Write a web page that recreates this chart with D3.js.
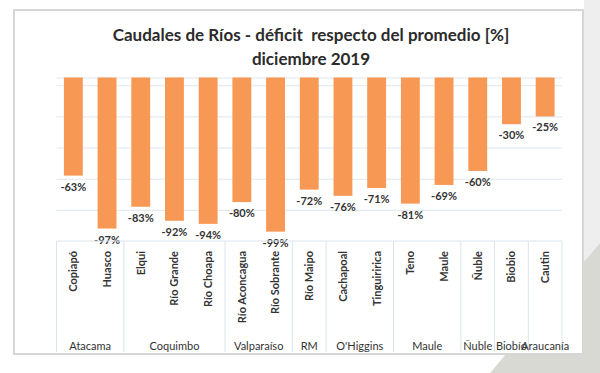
<!DOCTYPE html>
<html>
<head>
<meta charset="utf-8">
<script src="https://cdn.jsdelivr.net/npm/d3@7"></script>
<style>
  body { margin: 0; background: #fff; }
  svg { display: block; font-family: Lato, "Open Sans", sans-serif; }
  .grid line { stroke: #dfe6ee; }
  .grid path { display: none; }
</style>
</head>
<body>
<script>
// rivers, deficit (%) and the region each one belongs to
const rivers = ["Copiapó", "Huasco", "Elqui", "Río Grande", "Río Choapa", "Río Aconcagua", "Río Sobrante",
  "Río Maipo", "Cachapoal", "Tinguiririca", "Teno", "Maule", "Ñuble", "Biobio", "Cautin"];
const deficits = [-63, -97, -83, -92, -94, -80, -99, -72, -76, -71, -81, -69, -60, -30, -25];
const riverRegion = ["Atacama", "Atacama", "Coquimbo", "Coquimbo", "Coquimbo", "Valparaíso", "Valparaíso",
  "RM", "O'Higgins", "O'Higgins", "Maule", "Maule", "Ñuble", "Biobío", "Araucanía"];
const regions = ["Atacama", "Coquimbo", "Valparaíso", "RM", "O'Higgins", "Maule", "Ñuble", "Biobío", "Araucanía"];
const gridTicks = [0, -5, -25, -45, -65, -85];

const width = 600, height = 373;
const plot = { left: 56.5, right: 562, top: 77.5, bottom: 241 };

const svg = d3.select("body").append("svg")
  .attr("width", width)
  .attr("height", height);

// page background bits around the chart frame
svg.append("rect").attr("x", 584).attr("y", 0).attr("width", 16).attr("height", height).attr("fill", "#eeeeee");
svg.append("polygon").attr("points", "600,243 600,373 490,373").attr("fill", "#d8d9d3");

svg.append("rect")
  .attr("x", 14).attr("y", 10)
  .attr("width", 569).attr("height", 344)
  .attr("fill", "#fff")
  .attr("stroke", "#d6d6d6")
  .attr("stroke-width", 2);

// title
const title = svg.append("text")
  .attr("text-anchor", "middle")
  .attr("fill", "#2b2b2b")
  .style("font-weight", "bold")
  .style("font-size", "17px")
  .style("white-space", "pre");
title.append("tspan").attr("x", 311).attr("y", 41).text("Caudales de Ríos - déficit  respecto del promedio [%]");
title.append("tspan").attr("x", 311).attr("y", 65).text("diciembre 2019");

const x = d3.scaleBand()
  .domain(rivers)
  .range([plot.left, plot.right])
  .paddingInner(0.44)
  .paddingOuter(0.22);

const y = d3.scaleLinear()
  .domain([0, -105])
  .range([plot.top, plot.bottom]);

// gridlines
svg.append("g")
  .attr("class", "grid")
  .attr("transform", "translate(" + plot.left + " 0)")
  .call(d3.axisLeft(y).tickValues(gridTicks).tickSize(-(plot.right - plot.left)).tickFormat(""));

// bars
svg.selectAll(".bar").data(rivers).enter().append("rect")
  .attr("class", "bar")
  .attr("x", d => x(d))
  .attr("y", y(0))
  .attr("width", x.bandwidth())
  .attr("height", (d, i) => y(deficits[i]) - y(0))
  .attr("fill", "#f79854");

// value labels under each bar
svg.selectAll(".val").data(rivers).enter().append("text")
  .attr("class", "val")
  .attr("x", d => x(d) + x.bandwidth() / 2)
  .attr("y", (d, i) => y(deficits[i]) + 15)
  .attr("text-anchor", "middle")
  .attr("fill", "#333")
  .style("font-weight", "bold")
  .style("font-size", "11px")
  .text((d, i) => deficits[i] + "%");

// category table below the plot
const half = x.step() * x.paddingInner() / 2;
svg.append("line")
  .attr("x1", plot.left).attr("x2", plot.right)
  .attr("y1", plot.bottom).attr("y2", plot.bottom)
  .attr("stroke", "#dbe4ee");

const bounds = [plot.left];
regions.forEach(r => {
  const last = rivers[riverRegion.lastIndexOf(r)];
  bounds.push(x(last) + x.bandwidth() + half);
});
svg.selectAll(".sep").data(bounds).enter().append("line")
  .attr("x1", d => d).attr("x2", d => d)
  .attr("y1", plot.bottom).attr("y2", 352)
  .attr("stroke", "#dbe4ee");

svg.selectAll(".cat").data(rivers).enter().append("text")
  .attr("class", "cat")
  .attr("transform", d => "translate(" + (x(d) + x.bandwidth() / 2) + " 251) rotate(-90)")
  .attr("dy", "0.35em")
  .attr("text-anchor", "end")
  .attr("fill", "#333")
  .style("font-weight", "bold")
  .style("font-size", "11px")
  .text(d => d);

svg.selectAll(".reg").data(regions).enter().append("text")
  .attr("class", "reg")
  .attr("x", (d, i) => (bounds[i] + bounds[i + 1]) / 2)
  .attr("y", 350)
  .attr("text-anchor", "middle")
  .attr("fill", "#333")
  .style("font-size", "11px")
  .text(d => d);
</script>
</body>
</html>
